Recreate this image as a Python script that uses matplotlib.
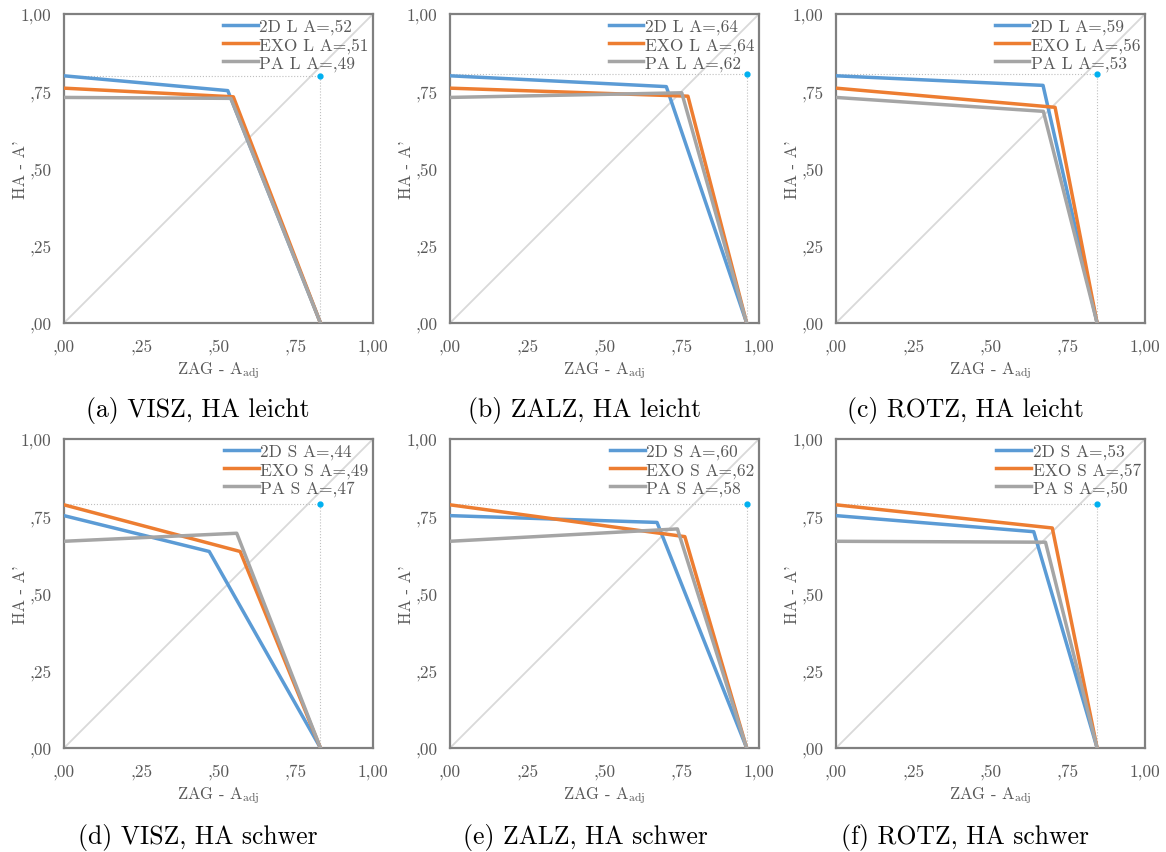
"""Six small ROC-like panels (VISZ / ZALZ / ROTZ, HA leicht / schwer)."""

import matplotlib
matplotlib.use('Agg')
import matplotlib.pyplot as plt

plt.rcParams['font.family'] = ['cmr10', 'DejaVu Serif']
plt.rcParams['mathtext.fontset'] = 'cm'
plt.rcParams['axes.unicode_minus'] = False

# Panel captions and legend tags (top row: leicht, bottom row: schwer)
captions = ['(a) VISZ, HA leicht', '(b) ZALZ, HA leicht', '(c) ROTZ, HA leicht',
            '(d) VISZ, HA schwer', '(e) ZALZ, HA schwer', '(f) ROTZ, HA schwer']
level_tag = ['L', 'L', 'L', 'S', 'S', 'S']
tick_labels = [',00', ',25', ',50', ',75', '1,00']

# A-values shown in the legends
auc_2d = [',52', ',64', ',59', ',44', ',60', ',53']
auc_exo = [',51', ',64', ',56', ',49', ',62', ',57']
auc_pa = [',49', ',62', ',53', ',47', ',58', ',50']

# Curve points: (0, start_y) -> (kink_x, kink_y) -> (end_x, 0)
start_2d = [0.80, 0.80, 0.80, 0.752, 0.752, 0.752]
kink_x_2d = [0.53, 0.70, 0.67, 0.47, 0.67, 0.64]
kink_y_2d = [0.752, 0.765, 0.769, 0.636, 0.730, 0.700]

start_exo = [0.76, 0.76, 0.76, 0.787, 0.787, 0.787]
kink_x_exo = [0.548, 0.77, 0.709, 0.57, 0.76, 0.70]
kink_y_exo = [0.732, 0.734, 0.698, 0.636, 0.684, 0.712]

start_pa = [0.73, 0.73, 0.73, 0.669, 0.669, 0.669]
kink_x_pa = [0.54, 0.75, 0.671, 0.559, 0.736, 0.678]
kink_y_pa = [0.727, 0.745, 0.685, 0.695, 0.709, 0.666]

end_x = [0.83, 0.96, 0.845, 0.83, 0.96, 0.845]
dot_y = [0.80, 0.805, 0.805, 0.79, 0.79, 0.79]

blue = '#5B9BD5'
orange = '#ED7D31'
gray = '#A5A5A5'
text_gray = '#595959'

fig = plt.figure(figsize=(11.66, 8.53), dpi=100)

W, H = 1166, 853
col_left = [64, 450, 836]
col_center = [198, 585, 965]
row_bottom = [324, 749]
row_caption = [411, 838]
size = 309

for i in range(6):
    row, col = divmod(i, 3)
    ax = fig.add_axes([col_left[col] / W, (H - row_bottom[row]) / H, size / W, size / H])

    # diagonal reference line
    ax.plot([0, 1], [0, 1], color='#D9D9D9', linewidth=1.3, zorder=1)

    # dotted guide to the ideal point
    ax.plot([0, end_x[i], end_x[i]], [dot_y[i], dot_y[i], 0],
            color='#BFBFBF', linewidth=0.8, linestyle=':', zorder=1)
    ax.plot([end_x[i]], [dot_y[i]], marker='o', markersize=3.5,
            color='#00B0F0', linestyle='none', zorder=5)

    tag = level_tag[i]
    ax.plot([0, kink_x_2d[i], end_x[i]], [start_2d[i], kink_y_2d[i], 0],
            color=blue, linewidth=2.5, label='2D %s A=%s' % (tag, auc_2d[i]), zorder=3)
    ax.plot([0, kink_x_exo[i], end_x[i]], [start_exo[i], kink_y_exo[i], 0],
            color=orange, linewidth=2.5, label='EXO %s A=%s' % (tag, auc_exo[i]), zorder=3)
    ax.plot([0, kink_x_pa[i], end_x[i]], [start_pa[i], kink_y_pa[i], 0],
            color=gray, linewidth=2.5, label='PA %s A=%s' % (tag, auc_pa[i]), zorder=3)

    ax.set_xlim(0, 1)
    ax.set_ylim(0, 1)
    ticks = [0, 0.25, 0.5, 0.75, 1.0]
    ax.set_xticks(ticks)
    ax.set_yticks(ticks)
    ax.set_xticklabels(tick_labels)
    ax.set_yticklabels(tick_labels)
    ax.tick_params(length=0, labelsize=12.5, labelcolor=text_gray)
    ax.tick_params(axis='x', pad=11)
    ax.tick_params(axis='y', pad=9)

    for spine in ax.spines.values():
        spine.set_color('#808080')
        spine.set_linewidth(1.6)

    ax.set_xlabel(r'ZAG - A$_{\mathrm{adj}}$', fontsize=12, color=text_gray, labelpad=4)
    ax.set_ylabel("HA - A'", fontsize=12, color=text_gray, labelpad=-5)

    leg = ax.legend(loc='upper right', frameon=False, fontsize=12.5,
                    handlelength=2.0, handletextpad=0.1, labelspacing=0.15,
                    borderaxespad=0.1, borderpad=0.15)
    for t in leg.get_texts():
        t.set_color(text_gray)

    fig.text(col_center[col] / W, 1 - row_caption[row] / H, captions[i],
             fontsize=18.5, ha='center', va='center', color='black')

fig.savefig('out.png', dpi=100)
